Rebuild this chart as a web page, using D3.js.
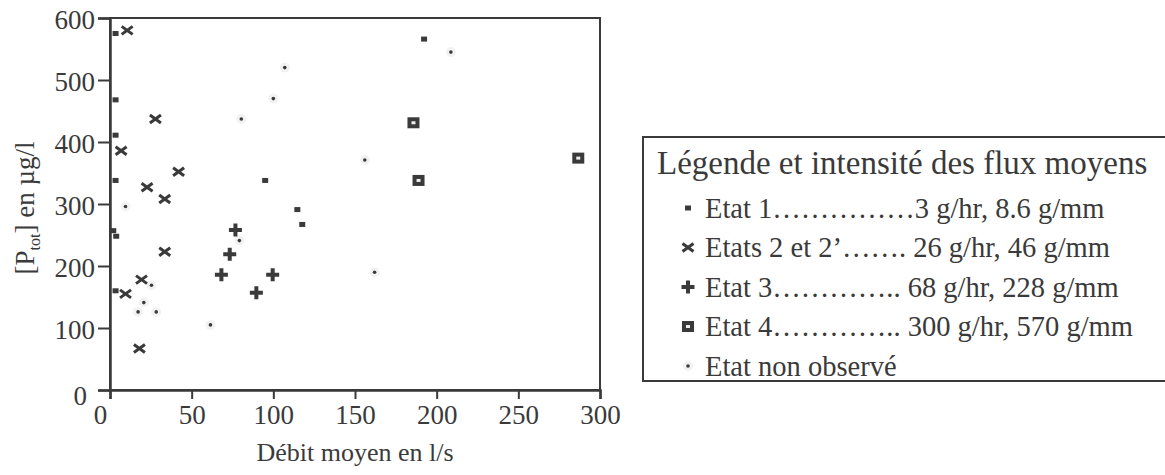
<!DOCTYPE html>
<html>
<head>
<meta charset="utf-8">
<script src="https://cdn.jsdelivr.net/npm/d3@7"></script>
<style>
  html, body { margin: 0; padding: 0; background: #fff; }
  svg { display: block; font-family: "Liberation Serif", "Times New Roman", serif; }
</style>
</head>
<body>
<svg id="chart" width="1165" height="475"></svg>
<script>
// Mean flow (l/s) versus total phosphorus (µg/l), grouped by hydrological state
const etat1 = [[3.4, 575], [3.4, 468], [3.4, 411], [3.4, 338], [2, 257], [3.8, 248], [3.4, 160],
               [95, 338], [114.7, 291], [117.7, 267], [192.3, 566]];
const etats2 = [[10.5, 580], [27.8, 437], [6.8, 386], [42, 352], [22.7, 327], [33.5, 308],
                [33.5, 223], [19.3, 178], [9.5, 155], [18, 67]];
const etat3 = [[76.8, 258], [73.3, 219], [68.2, 186], [99.6, 186], [89.6, 157]];
const etat4 = [[185.8, 431], [188.9, 338], [286.7, 374]];
const nonObserve = [[9.5, 296], [25.4, 169], [20.7, 141], [17.2, 126], [28.3, 126], [107, 520],
                    [100, 470], [80.4, 437], [156, 371], [79.2, 241], [61.5, 105], [162, 190], [208.7, 545]];

const xTicks = [0, 50, 100, 150, 200, 250, 300];
const yTicks = [0, 100, 200, 300, 400, 500, 600];

const legendTitle = "Légende et intensité des flux moyens";
const legendItems = [
  { key: "etat1", label: "Etat 1……………3 g/hr, 8.6 g/mm" },
  { key: "etats2", label: "Etats 2 et 2’……. 26 g/hr, 46 g/mm" },
  { key: "etat3", label: "Etat 3………….. 68 g/hr, 228 g/mm" },
  { key: "etat4", label: "Etat 4………….. 300 g/hr, 570 g/mm" },
  { key: "nonObserve", label: "Etat non observé" }
];

const ink = "#3a3a3a";
const svg = d3.select("#chart");

const plot = { left: 110, right: 600, top: 18, bottom: 390 };
const x = d3.scaleLinear().domain([0, 300]).range([plot.left, plot.right]);
const y = d3.scaleLinear().domain([0, 600]).range([plot.bottom, plot.top]);

// plot frame
svg.append("rect")
  .attr("x", plot.left).attr("y", plot.top)
  .attr("width", plot.right - plot.left).attr("height", plot.bottom - plot.top)
  .attr("fill", "none").attr("stroke", ink).attr("stroke-width", 2);

// axes
const xAxis = d3.axisBottom(x).tickValues(xTicks).tickSize(9).tickPadding(6).tickFormat(d3.format("d"));
const yAxis = d3.axisLeft(y).tickValues(yTicks).tickSize(12).tickPadding(3).tickFormat(d3.format("d"));

const gx = svg.append("g").attr("transform", `translate(0,${plot.bottom})`).call(xAxis);
const gy = svg.append("g").attr("transform", `translate(${plot.left},0)`).call(yAxis);

[gx, gy].forEach(g => {
  g.select(".domain").attr("stroke", ink).attr("stroke-width", 2.5);
  g.selectAll(".tick line").attr("stroke", ink).attr("stroke-width", 2);
  g.selectAll(".tick text")
    .attr("fill", ink)
    .style("font-family", "Liberation Serif, serif")
    .style("font-size", "27px");
});
gx.select(".tick text").attr("dx", -10);
gy.selectAll(".tick text").attr("dy", "0.4em");
gy.select(".tick text").attr("dx", -8).attr("dy", "0.55em");

// axis titles
svg.append("text")
  .attr("x", 355).attr("y", 461)
  .attr("text-anchor", "middle")
  .attr("fill", ink)
  .style("font-size", "26px")
  .text("Débit moyen en l/s");

const yTitle = svg.append("text")
  .attr("transform", "translate(34,208) rotate(-90)")
  .attr("text-anchor", "middle")
  .attr("fill", ink)
  .style("font-size", "27px");
yTitle.append("tspan").text("[P");
yTitle.append("tspan").attr("dy", 6).style("font-size", "16px").text("tot");
yTitle.append("tspan").attr("dy", -6).text("] en µg/l");

// marker painters, one per state
const markers = {
  etat1: (g) => g.append("rect").attr("x", -3).attr("y", -2.5).attr("width", 6).attr("height", 5).attr("fill", ink),
  etats2: (g) => g.append("path").attr("d", "M-5.5,-4L5.5,4M-5.5,4L5.5,-4").attr("stroke", ink).attr("stroke-width", 3).attr("fill", "none"),
  etat3: (g) => g.append("path").attr("d", "M-6.5,0L6.5,0M0,-6.5L0,6.5").attr("stroke", ink).attr("stroke-width", 4).attr("fill", "none"),
  etat4: (g) => {
    g.append("rect").attr("x", -6).attr("y", -5.5).attr("width", 12).attr("height", 11).attr("fill", ink);
    g.append("rect").attr("x", -2).attr("y", -1.5).attr("width", 4).attr("height", 3).attr("fill", "#eee");
  },
  nonObserve: (g) => {
    g.append("circle").attr("r", 5).attr("fill", "#f2f2f2");
    g.append("circle").attr("r", 1.8).attr("fill", ink);
  }
};

const series = { etat1, etats2, etat3, etat4, nonObserve };
["nonObserve", "etat1", "etats2", "etat3", "etat4"].forEach(key => {
  svg.append("g").attr("class", key)
    .selectAll("g").data(series[key]).join("g")
    .attr("transform", d => `translate(${x(d[0])},${y(d[1])})`)
    .each(function () { markers[key](d3.select(this)); });
});

// legend box
const lg = { x: 643, y: 137, w: 530, h: 244 };
svg.append("rect")
  .attr("x", lg.x).attr("y", lg.y).attr("width", lg.w).attr("height", lg.h)
  .attr("fill", "#fff").attr("stroke", ink).attr("stroke-width", 2);

svg.append("text")
  .attr("x", lg.x + 14).attr("y", lg.y + 37)
  .attr("fill", ink).style("font-size", "33px")
  .text(legendTitle);

const rowY = d3.scalePoint().domain(legendItems.map(d => d.key)).range([lg.y + 71, lg.y + 229]);
const rows = svg.append("g").selectAll("g").data(legendItems).join("g")
  .attr("transform", d => `translate(${lg.x + 45},${rowY(d.key)})`);
rows.each(function (d) { markers[d.key](d3.select(this)); });
rows.append("text")
  .attr("x", 17).attr("dy", "0.35em")
  .attr("fill", ink).style("font-size", "28.5px")
  .text(d => d.label);
</script>
</body>
</html>
